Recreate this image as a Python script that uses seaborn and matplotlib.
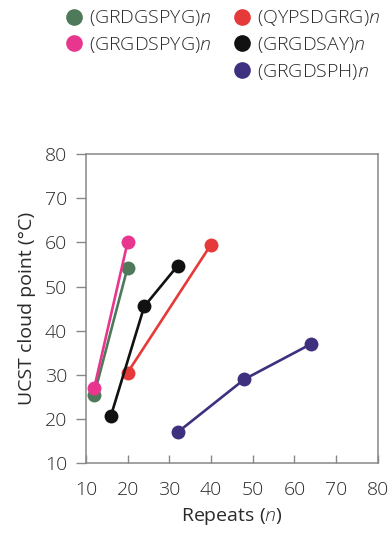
import matplotlib
matplotlib.use("Agg")
import matplotlib.pyplot as plt
from matplotlib.lines import Line2D
import seaborn as sns
import pandas as pd

series = ["GRDGSPYG", "GRGDSPYG", "QYPSDGRG", "GRGDSAY", "GRGDSPH"]
colors = ["#4f7a5a", "#e8368f", "#e63a3a", "#111111", "#3e2f7f"]
x_grdgspyg = [12, 20]
y_grdgspyg = [25.5, 54.3]
x_grgdspyg = [12, 20]
y_grgdspyg = [27.0, 60.0]
x_qypsdgrg = [20, 40]
y_qypsdgrg = [30.5, 59.5]
x_grgdsay = [16, 24, 32]
y_grgdsay = [20.7, 45.5, 54.7]
x_grgdsph = [32, 48, 64]
y_grgdsph = [17.0, 29.0, 37.0]
ticks = [10, 20, 30, 40, 50, 60, 70, 80]

xs = [x_grdgspyg, x_grgdspyg, x_qypsdgrg, x_grgdsay, x_grgdsph]
ys = [y_grdgspyg, y_grgdspyg, y_qypsdgrg, y_grgdsay, y_grgdsph]
rows = []
for name, xx, yy in zip(series, xs, ys):
    for a, b in zip(xx, yy):
        rows.append({"series": name, "n": a, "T": b})
df = pd.DataFrame(rows)

sns.set_theme(style="white")
plt.rcParams["font.family"] = ["Open Sans", "DejaVu Sans"]
plt.rcParams["font.weight"] = "light"
plt.rcParams["mathtext.fontset"] = "custom"
plt.rcParams["mathtext.it"] = "Open Sans:italic:light"
plt.rcParams["mathtext.rm"] = "Open Sans:light"

FS = 14
TXT = "#2a2a2a"

fig = plt.figure(figsize=(3.92, 5.33), dpi=100)
ax = fig.add_axes([0.219, 0.131, 0.745, 0.58])
palette = dict(zip(series, colors))
sns.lineplot(data=df, x="n", y="T", hue="series", palette=palette, marker="o",
             markersize=10, markeredgewidth=0, linewidth=1.9, legend=False,
             ax=ax, sort=False)

ax.set_xlim(10, 80)
ax.set_ylim(10, 80)
ax.set_xticks(ticks)
ax.set_yticks(ticks)
ax.tick_params(axis="x", direction="in", length=6, width=1, color="#888888",
               labelsize=FS, colors=TXT, pad=13)
ax.tick_params(axis="y", direction="out", length=7, width=1, color="#888888",
               labelsize=FS, colors=TXT, pad=6.5)
ax.tick_params(axis="both", which="both", bottom=True, left=True)
for s in ax.spines.values():
    s.set_color("#888888")
    s.set_linewidth(1.1)
ax.set_xlabel("Repeats ($\\it{n}$)", fontsize=FS, color=TXT, labelpad=5)
ax.set_ylabel("UCST cloud point (°C)", fontsize=FS, color=TXT, labelpad=6)

handles = []
labels = []
order = [0, 1, None, 2, 3, 4]
for i in order:
    if i is None:
        handles.append(Line2D([], [], linestyle="none", marker=None))
        labels.append("")
    else:
        handles.append(Line2D([], [], linestyle="none", marker="o", markersize=12,
                              markeredgewidth=0, color=colors[i]))
        labels.append("(" + series[i] + ")$\\it{n}$")
fig.legend(handles, labels, ncol=2, loc="upper left", bbox_to_anchor=(0.125, 1.017),
           frameon=False, fontsize=FS, handlelength=0.8, handletextpad=0.35,
           columnspacing=1.2, labelspacing=0.35, labelcolor=TXT)

fig.savefig("out.png", dpi=100)
